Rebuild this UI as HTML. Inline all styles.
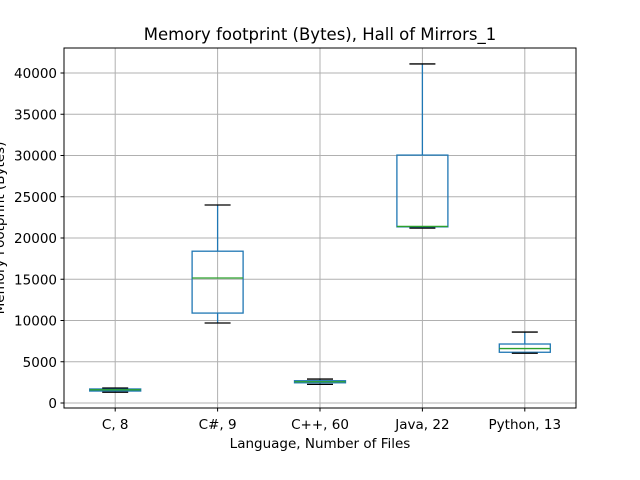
<!DOCTYPE html>
<html><head><meta charset="utf-8"><style>body{margin:0;background:#fff}svg{display:block;font-family:"DejaVu Sans","Liberation Sans",sans-serif}</style></head>
<body>
<svg id="chart" width="640" height="480">
<rect width="640" height="480" fill="#fff"/>
<g id="grid"></g><g id="boxes"></g><g id="axes"></g>
<text x="320" y="40" font-size="16.5" text-anchor="middle">Memory footprint (Bytes), Hall of Mirrors_1</text>
<text x="320" y="448" font-size="13.5" text-anchor="middle">Language, Number of Files</text>
<text transform="translate(4,228) rotate(-90)" font-size="13.5" text-anchor="middle">Memory Footprint (Bytes)</text>
</svg>
<script>
const categories=["C, 8","C#, 9","C++, 60","Java, 22","Python, 13"];
const whiskerLow=[1300,9700,2260,21200,6030];
const q1=[1450,10900,2450,21350,6150];
const medians=[1600,15150,2580,21400,6600];
const q3=[1700,18400,2700,30050,7150];
const whiskerHigh=[1820,24000,2900,41100,8600];
const yTicks=[0,5000,10000,15000,20000,25000,30000,35000,40000];
const L=64,R=576,T=48,B=408;
const y=v=>403-v*0.00825;
const x=i=>L+(R-L)*(i+0.5)/categories.length;
const NS="http://www.w3.org/2000/svg";
function mk(p,tag,attrs){const e=document.createElementNS(NS,tag);for(const k in attrs)e.setAttribute(k,attrs[k]);p.appendChild(e);return e;}
const g=document.getElementById('grid'),bx=document.getElementById('boxes'),ax=document.getElementById('axes');
yTicks.forEach(t=>{
 const l=mk(g,'line',{x1:L,x2:R,y1:y(t),y2:y(t),stroke:'#b0b0b0','stroke-width':1});
 
 
 const tk=mk(ax,'line',{x1:L-3.5,x2:L,y1:y(t),y2:y(t),stroke:'#000'});
 
 
 const tx=mk(ax,'text',{x:L-7,y:y(t)+5,'font-size':13.5,'text-anchor':'end'});
 tx.textContent=t;
 
 
});
categories.forEach((c,i)=>{
 const cx=x(i);
 const l=mk(g,'line',{x1:cx,x2:cx,y1:T,y2:B,stroke:'#b0b0b0','stroke-width':1});
 
 
 const tk=mk(ax,'line',{x1:cx,x2:cx,y1:B,y2:B+3.5,stroke:'#000'});
 
 
 const tx=mk(ax,'text',{x:cx,y:B+21,'font-size':13.5,'text-anchor':'middle'});
 tx.textContent=c;
 
 
 const grp=mk(bx,'g',{});
 
 
 mk(grp,'line',{x1:cx,x2:cx,y1:y(q3[i]),y2:y(whiskerHigh[i]),stroke:'#1f77b4','stroke-width':1.3});
 mk(grp,'line',{x1:cx,x2:cx,y1:y(q1[i]),y2:y(whiskerLow[i]),stroke:'#1f77b4','stroke-width':1.3});
 mk(grp,'rect',{x:cx-25.5,y:y(q3[i]),width:51,height:Math.max(0.5,y(q1[i])-y(q3[i])),fill:'none',stroke:'#1f77b4','stroke-width':1.3});
 mk(grp,'line',{x1:cx-13,x2:cx+13,y1:y(whiskerHigh[i]),y2:y(whiskerHigh[i]),stroke:'#000','stroke-width':1.3});
 mk(grp,'line',{x1:cx-13,x2:cx+13,y1:y(whiskerLow[i]),y2:y(whiskerLow[i]),stroke:'#000','stroke-width':1.3});
 mk(grp,'line',{x1:cx-25.5,x2:cx+25.5,y1:y(medians[i]),y2:y(medians[i]),stroke:'#2ca02c','stroke-width':1.3});
});
const fr=mk(ax,'rect',{x:L,y:T,width:R-L,height:B-T,fill:'none',stroke:'#000','stroke-width':1});


</script>
</body></html>
